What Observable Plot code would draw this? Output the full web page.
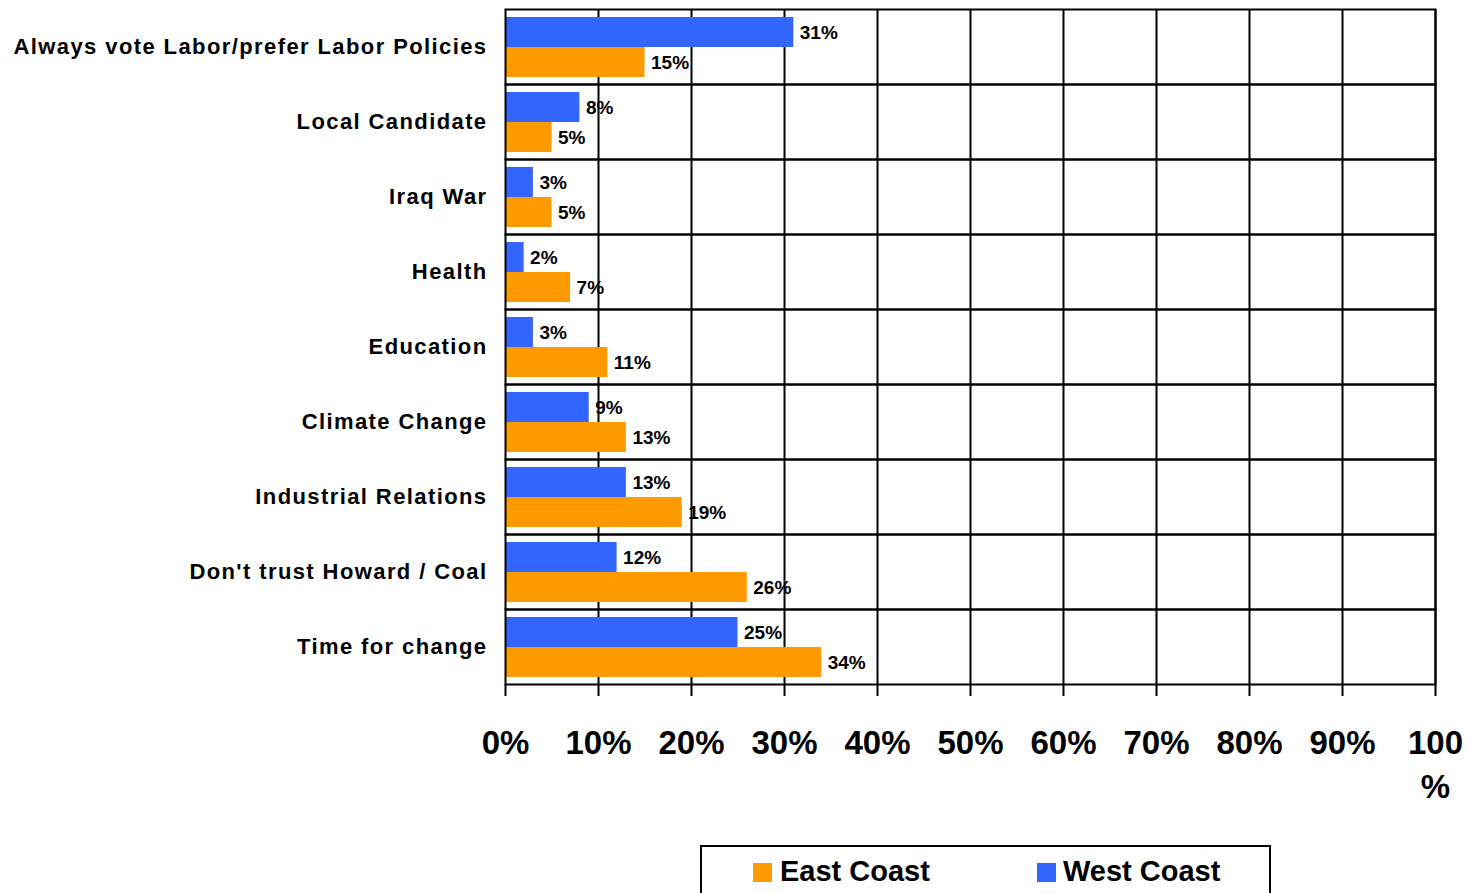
<!DOCTYPE html>
<html><head><meta charset="utf-8">
<script src="https://cdn.jsdelivr.net/npm/d3@7"></script>
<script src="https://cdn.jsdelivr.net/npm/@observablehq/plot@0.6"></script>
<style>
body{margin:0;background:#fff;font-family:"Liberation Sans",Arial,sans-serif;}
#wrap{position:relative;width:1470px;height:893px;overflow:hidden;}
#legend{position:absolute;left:700px;top:845px;width:571px;height:70px;border:2px solid #000;box-sizing:border-box;background:#fff;}
.sw{position:absolute;top:16px;width:19px;height:19px;}
.lt{position:absolute;top:7px;font-weight:bold;font-size:29px;line-height:34px;color:#000;}
</style>
</head><body>
<div id="wrap"><div id="chart"></div>
<div id="legend"></div></div>
<script>
const categories = ["Always vote Labor/prefer Labor Policies","Local Candidate","Iraq War","Health","Education","Climate Change","Industrial Relations","Don't trust Howard / Coal","Time for change"];
const westValues = [31,8,3,2,3,9,13,12,25];
const eastValues = [15,5,5,7,11,13,19,26,34];
const series = ["West Coast","East Coast"];
const seriesColors = ["#3366FF","#FF9900"];
const legendOrder = ["East Coast","West Coast"];
const xTicks = [0,10,20,30,40,50,60,70,80,90,100];

const data = [];
categories.forEach((c,i)=>{
  data.push({category:c, series:"West Coast", value:westValues[i]});
  data.push({category:c, series:"East Coast", value:eastValues[i]});
});

const chart = Plot.plot({
  width:1470, height:840,
  marginLeft:505, marginRight:35, marginTop:8, marginBottom:155,
  style:{fontFamily:"'Liberation Sans', Arial, sans-serif", color:"#000", background:"#fff"},
  x:{domain:[0,100]},
  y:{domain:series, paddingInner:0, paddingOuter:0.25, axis:null},
  fy:{domain:categories, padding:0},
  color:{domain:series, range:seriesColors},
  marks:[
    Plot.ruleX(xTicks.filter(d=>d>0),{stroke:"#000", strokeWidth:2}),
    Plot.barX(data,{fy:"category", y:"series", x:"value", fill:"series"}),
    Plot.frame({stroke:"#000", strokeWidth:2}),
    Plot.text(data,{fy:"category", y:"series", x:"value", text:d=>d.value+"%", dx:6, textAnchor:"start", fontWeight:"bold", fontSize:19, fill:"#000"}),
    Plot.axisX({ticks:xTicks, tickFormat:d=>d===100?"100\n%":d+"%", tickSize:12, tickPadding:26, strokeWidth:2, fontSize:33, fontWeight:"bold", lineHeight:1.33, label:null}),
    Plot.axisFy({anchor:"left", tickSize:0, tickPadding:18, fontSize:22, fontWeight:"bold", label:null})
  ]
});
document.getElementById("chart").appendChild(chart);
d3.select(chart).selectAll('[aria-label="fy-axis tick label"] text').attr("letter-spacing","1.4px");

const legend = d3.select("#legend");
const pos = {"East Coast":[51,78],"West Coast":[335,361]};
legendOrder.forEach(s=>{
  const col = seriesColors[series.indexOf(s)];
  legend.append("div").attr("class","sw").style("left",pos[s][0]+"px").style("background",col);
  legend.append("div").attr("class","lt").style("left",pos[s][1]+"px").text(s);
});
</script>
</body></html>
